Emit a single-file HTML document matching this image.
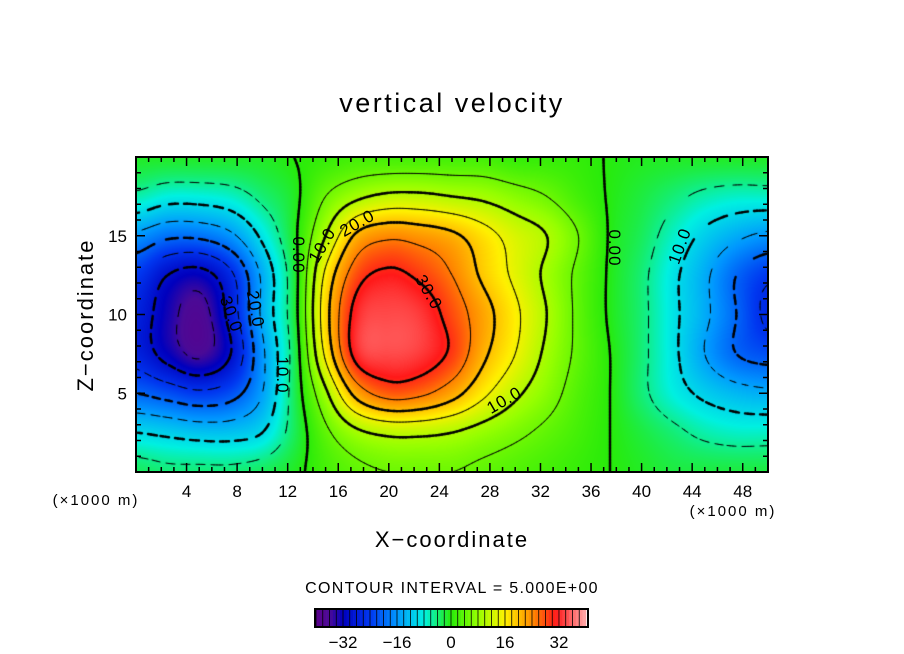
<!DOCTYPE html>
<html><head><meta charset="utf-8">
<style>
body{margin:0;background:#fff;width:904px;height:654px;overflow:hidden;font-family:"Liberation Sans",sans-serif;}
#wrap{position:relative;width:904px;height:654px;}
canvas{position:absolute;}
svg{position:absolute;left:0;top:0;}
</style></head>
<body>
<div id="wrap">
<canvas id="fill" width="632" height="315" style="left:136px;top:157px"></canvas>
<canvas id="lines" width="632" height="315" style="left:136px;top:157px"></canvas>
<svg id="svg" width="904" height="654">
<text x="452" y="112" font-size="27" letter-spacing="2.5" text-anchor="middle">vertical velocity</text>
<text x="452" y="547" font-size="22" letter-spacing="2" text-anchor="middle">X−coordinate</text>
<text transform="translate(93,315) rotate(-90)" font-size="22" letter-spacing="2" text-anchor="middle">Z−coordinate</text>
<text x="96" y="505" font-size="15" letter-spacing="2" text-anchor="middle">(×1000 m)</text>
<text x="733" y="516" font-size="15" letter-spacing="2" text-anchor="middle">(×1000 m)</text>
<text x="452" y="593" font-size="16" letter-spacing="1.3" text-anchor="middle">CONTOUR INTERVAL = 5.000E+00</text>
<g id="ticks"></g>
<g id="labels" font-size="17" fill="#000"></g>
<g id="cbar"></g>
<rect x="136" y="157" width="632" height="315" fill="none" stroke="#000" stroke-width="2"/>
</svg>
</div>
<script>
const xNodes=[0,2.5,5,7.5,10,12.5,15,17.5,20,22.5,25,27.5,30,32.5,35,37.5,40,42.5,45,47.5,50];
const zNodes=[0,2.5,5,7.5,10,12.5,15,17.5,20];
const w_z0   =[-3,-4,-4,-4,-3,-1,2,4,5,5,5,4,3,2,1,0,-1,-2,-2,-2,-2];
const w_z2_5 =[-10,-11,-12,-12,-10,-3,4,9,11,11,10,8,6,4,2,0,-2,-4,-6,-7,-7];
const w_z5   =[-20,-22,-24,-22,-15,-3,9,22,27,26,22,16,11,7,3,0,-4,-8,-11,-13,-14];
const w_z7_5 =[-27,-32,-36,-30,-16,-3,16,32,34,33,29,21,15,9,4,0,-4,-9,-15,-20,-22];
const w_z10  =[-27,-33,-37,-28,-14,-2,18,32,34,33,28,22,16,10,4,-0.5,-4,-9,-14,-20,-26];
const w_z12_5=[-24,-30,-32,-26,-14,-2,16,28,31,29,25,19,14,9,4,-0.5,-4,-9,-14,-20,-24];
const w_z15  =[-16,-19,-19,-16,-9,-1,10,21,24,23,21,17,13,10,5,-0.3,-3,-7,-11,-14,-16];
const w_z17_5=[-6,-8,-8,-7,-4,-1,5,9,11,11,10,9,7,5,2,-0.3,-2,-4,-6,-7,-7];
const w_z20  =[-1,-1,-1,-1,-1,0,1,2,2,2,2,2,1,1,0.8,-0.2,-0.8,-1,-1,-1,-1];
const grid=[w_z0,w_z2_5,w_z5,w_z7_5,w_z10,w_z12_5,w_z15,w_z17_5,w_z20];
const levels=[-35,-30,-25,-20,-15,-10,-5,0,5,10,15,20,25,30,35];
const xTicks=[4,8,12,16,20,24,28,32,36,40,44,48];
const zTicks=[5,10,15];
const cbarTicks=[-32,-16,0,16,32];

const PX0=136,PX1=768,PY0=157,PY1=472,XMIN=0,XMAX=50,ZMIN=0,ZMAX=20;
function sx(x){return PX0+(x-XMIN)/(XMAX-XMIN)*(PX1-PX0);}
function sz(z){return PY1-(z-ZMIN)/(ZMAX-ZMIN)*(PY1-PY0);}
function g(i,j){i=Math.max(0,Math.min(zNodes.length-1,i));j=Math.max(0,Math.min(xNodes.length-1,j));return grid[i][j];}
function cr(p0,p1,p2,p3,t){return 0.5*((2*p1)+(-p0+p2)*t+(2*p0-5*p1+4*p2-p3)*t*t+(-p0+3*p1-3*p2+p3)*t*t*t);}
const dx=xNodes[1]-xNodes[0],dz=zNodes[1]-zNodes[0];
function val(x,z){
 let gx=x/dx,gz=z/dz;let j=Math.min(Math.floor(gx),xNodes.length-2),i=Math.min(Math.floor(gz),zNodes.length-2);
 let tx=gx-j,tz=gz-i;const r=[];
 for(let k=-1;k<3;k++){r.push(cr(g(i+k,j-1),g(i+k,j),g(i+k,j+1),g(i+k,j+2),tx));}
 return cr(r[0],r[1],r[2],r[3],tz);
}
const stops=[[-40,[90,0,140]],[-36,[75,10,150]],[-32,[0,0,190]],[-24,[0,55,240]],[-16,[0,150,255]],[-8,[0,240,225]],[0,[40,235,10]],[8,[150,255,0]],[16,[255,240,0]],[24,[255,140,0]],[31,[255,25,25]],[40,[255,170,170]]];
function col(v){
 if(v<=stops[0][0])return stops[0][1];
 for(let k=0;k<stops.length-1;k++){const a=stops[k],b=stops[k+1];if(v<=b[0]){const t=(v-a[0])/(b[0]-a[0]);return a[1].map((c,n)=>Math.round(c+(b[1][n]-c)*t));}}
 return stops[stops.length-1][1];
}
const fc=document.getElementById('fill').getContext('2d');
const W=632,H=315;const img=fc.createImageData(W,H);
for(let py=0;py<H;py++)for(let px=0;px<W;px++){
 const x=XMIN+(px+0.5)/W*(XMAX-XMIN),z=ZMAX-(py+0.5)/H*(ZMAX-ZMIN);
 const c=col(val(x,z));const o=(py*W+px)*4;img.data[o]=c[0];img.data[o+1]=c[1];img.data[o+2]=c[2];img.data[o+3]=255;}
fc.putImageData(img,0,0);
const lc=document.getElementById('lines').getContext('2d');
const S=3,NX=Math.ceil(W/S)+1,NY=Math.ceil(H/S)+1;const V=[];
for(let r=0;r<NY;r++){V.push([]);for(let c=0;c<NX;c++){const px=Math.min(c*S,W),py=Math.min(r*S,H);V[r].push(val(px/W*XMAX,ZMAX-py/H*ZMAX));}}
lc.strokeStyle='#000';lc.lineCap='round';
levels.forEach(L=>{
 lc.lineWidth=(L%10===0)?2.4:1;
 for(let r=0;r<NY-1;r++)for(let c=0;c<NX-1;c++){
  const p=[[c*S,r*S,V[r][c]],[(c+1)*S,r*S,V[r][c+1]],[(c+1)*S,(r+1)*S,V[r+1][c+1]],[c*S,(r+1)*S,V[r+1][c]]];
  const pts=[];
  for(let e=0;e<4;e++){const a=p[e],b=p[(e+1)%4];if((a[2]<L)!==(b[2]<L)){const t=(L-a[2])/(b[2]-a[2]);pts.push([a[0]+(b[0]-a[0])*t,a[1]+(b[1]-a[1])*t]);}}
  for(let k=0;k+1<pts.length;k+=2){
   const mx=(pts[k][0]+pts[k+1][0])/2,my=(pts[k][1]+pts[k+1][1])/2;
   if(L<0&&((mx+my)%16)>10)continue;
   lc.beginPath();lc.moveTo(pts[k][0],pts[k][1]);lc.lineTo(pts[k+1][0],pts[k+1][1]);lc.stroke();}
 }
});
const NS='http://www.w3.org/2000/svg';
const tk=document.getElementById('ticks'),lb=document.getElementById('labels');
function line(x1,y1,x2,y2,w,name){const l=document.createElementNS(NS,'line');l.setAttribute('x1',x1);l.setAttribute('y1',y1);l.setAttribute('x2',x2);l.setAttribute('y2',y2);l.setAttribute('stroke','#000');l.setAttribute('stroke-width',w);
 
 
 tk.appendChild(l);}
function text(x,y,s,anchor,name,parent,rot){const t=document.createElementNS(NS,'text');t.setAttribute('x',x);t.setAttribute('y',y);t.setAttribute('text-anchor',anchor);t.textContent=s;if(rot!==undefined)t.setAttribute('transform','rotate('+rot+' '+x+' '+y+')');
 
 
 (parent||lb).appendChild(t);return t;}
for(let x=1;x<XMAX;x++){const big=x%4===0;const L=big?9:5;line(sx(x),PY1,sx(x),PY1-L,1.5,'x-tick');line(sx(x),PY0,sx(x),PY0+L,1.5,'x-tick-top');}
for(let z=1;z<ZMAX;z++){const big=z%5===0;const L=big?9:5;line(PX0,sz(z),PX0+L,sz(z),1.5,'z-tick');line(PX1,sz(z),PX1-L,sz(z),1.5,'z-tick-right');}
xTicks.forEach(x=>text(sx(x),497,String(x),'middle','x-tick-label'));
zTicks.forEach(z=>text(127,sz(z)+6,String(z),'end','z-tick-label'));
const cl=[[293,255,'0.00',90],[327,248,'10.0',-60],[360,228,'20.0',-30],[424,295,'30.0',60],[226,316,'30.0',70],[250,310,'20.0',80],[277,375,'10.0',90],[507,405,'10.0',-30],[609,248,'0.00',90],[685,248,'10.0',-70]];
cl.forEach(c=>{const t=text(c[0],c[1],c[2],'middle','contour-label',lb,c[3]);t.setAttribute('font-size','17');t.setAttribute('letter-spacing','1');});
const cb=document.getElementById('cbar');const CB0=315,CB1=588,CMIN=-40.3,CMAX=40.6;
function cx(v){return CB0+(v-CMIN)/(CMAX-CMIN)*(CB1-CB0);}
for(let v=-40;v<40;v+=1){const r=document.createElementNS(NS,'rect');r.setAttribute('x',cx(v));r.setAttribute('y',609);r.setAttribute('width',cx(v+1)-cx(v)+0.3);r.setAttribute('height',18);const c=col(v+0.5);r.setAttribute('fill','rgb('+c.join(',')+')');
 
 
 cb.appendChild(r);
 if(v%2===0){const l=document.createElementNS(NS,'line');l.setAttribute('x1',cx(v));l.setAttribute('x2',cx(v));l.setAttribute('y1',609);l.setAttribute('y2',627);l.setAttribute('stroke','#000');l.setAttribute('stroke-width',0.8);
 
 
 cb.appendChild(l);}}
const fr=document.createElementNS(NS,'rect');fr.setAttribute('x',CB0);fr.setAttribute('y',609);fr.setAttribute('width',CB1-CB0);fr.setAttribute('height',18);fr.setAttribute('fill','none');fr.setAttribute('stroke','#000');fr.setAttribute('stroke-width',2);


cb.appendChild(fr);
cbarTicks.forEach(v=>{const t=text(cx(v),648,(v<0?'−':'')+Math.abs(v),'middle','colorbar-tick-label',cb);t.setAttribute('font-size','17');});
</script>
</body></html>
